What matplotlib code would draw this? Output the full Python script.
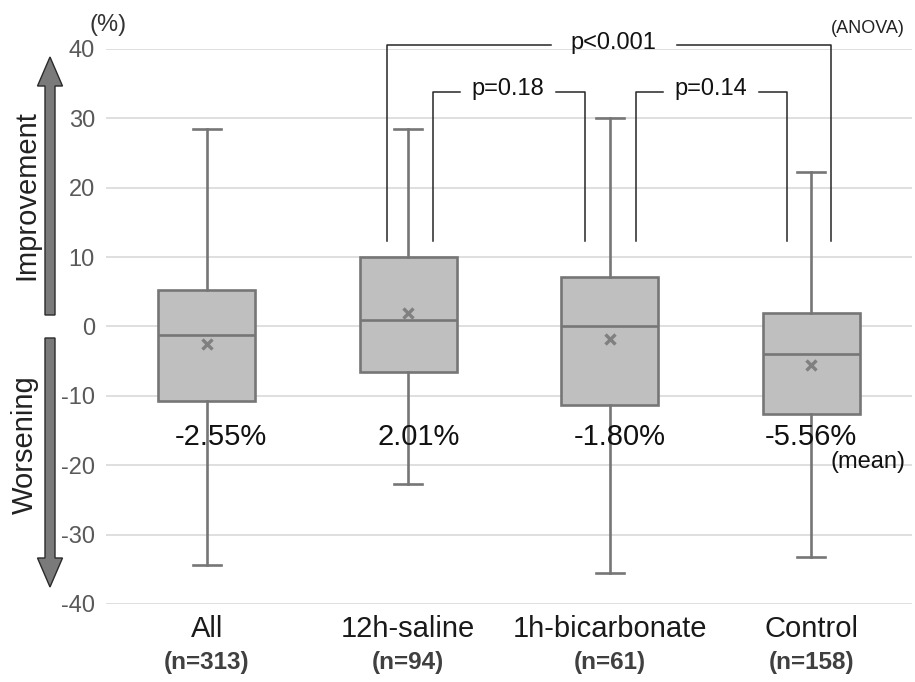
import matplotlib
matplotlib.use("Agg")
import matplotlib.pyplot as plt
from matplotlib.patches import FancyArrow
from matplotlib.transforms import blended_transform_factory

plt.rcParams["font.family"] = ["Liberation Sans", "DejaVu Sans"]
plt.rcParams["axes.unicode_minus"] = False

# data
groups = ["All", "12h-saline", "1h-bicarbonate", "Control"]
n_labels = ["(n=313)", "(n=94)", "(n=61)", "(n=158)"]
whis_hi = [28.5, 28.5, 30.0, 22.3]
q3 = [5.2, 10.0, 7.2, 1.9]
median = [-1.3, 1.0, 0.0, -3.9]
q1 = [-10.8, -6.6, -11.3, -12.6]
whis_lo = [-34.4, -22.7, -35.5, -33.3]
means = [-2.55, 2.01, -1.80, -5.56]

BOX = "#bfbfbf"
EDGE = "#767676"
GRID = "#d9d9d9"
TICK = "#595959"

stats = []
for i in range(len(groups)):
    stats.append(dict(med=median[i], q1=q1[i], q3=q3[i], whislo=whis_lo[i],
                      whishi=whis_hi[i], mean=means[i], fliers=[], label=groups[i]))

fig = plt.figure(figsize=(9.15, 6.82), dpi=100)
ax = fig.add_axes([0.1158, 0.1144, 0.881, 0.8138])

line = dict(color=EDGE, linewidth=1.9)
ax.bxp(stats, positions=range(len(groups)), widths=0.48, capwidths=0.14,
       patch_artist=True, showmeans=True, showfliers=False,
       boxprops=dict(facecolor=BOX, edgecolor=EDGE, linewidth=1.9),
       medianprops=line, whiskerprops=line, capprops=line,
       meanprops=dict(marker="x", markeredgecolor="#808080", markersize=7,
                      markeredgewidth=2.4))

ax.set_xlim(-0.5, 3.5)
ax.set_ylim(-40, 40)
ax.set_yticks(range(-40, 41, 10))
ax.tick_params(axis="y", length=0, labelsize=17, labelcolor=TICK, pad=8)
ax.tick_params(axis="x", length=0, labelbottom=False)
ax.grid(axis="y", color=GRID, linewidth=1.2)
ax.set_axisbelow(True)
for s in ax.spines.values():
    s.set_visible(False)

# category labels below the axis
tr = blended_transform_factory(ax.transData, ax.transAxes)
for i, (g, n) in enumerate(zip(groups, n_labels)):
    ax.text(i, -0.045, g, transform=tr, ha="center", va="center",
            fontsize=21, color="#1a1a1a")
    ax.text(i, -0.106, n, transform=tr, ha="center", va="center",
            fontsize=17.5, fontweight="bold", color="#404040")

# mean labels
offs = [0.07, 0.05, 0.05, 0.0]
for i, m in enumerate(means):
    ax.text(i + offs[i], -15.9, f"{m:.2f}%", ha="center", va="center",
            fontsize=21, color="#111111")
ax.text(3.28, -19.5, "(mean)", ha="center", va="center", fontsize=17,
        color="#111111", clip_on=False)

# significance brackets
bk = dict(color="#262626", linewidth=1.1, clip_on=False)
ax.plot([0.893, 0.893, 1.707], [12.3, 40.6, 40.6], **bk)
ax.plot([2.333, 3.10, 3.10], [40.6, 40.6, 12.3], **bk)
ax.text(2.02, 40.8, "p<0.001", ha="center", va="center", fontsize=17, color="#111111")
ax.plot([1.122, 1.122, 1.256], [12.3, 33.8, 33.8], **bk)
ax.plot([1.732, 1.876, 1.876], [33.8, 33.8, 12.3], **bk)
ax.text(1.494, 34.2, "p=0.18", ha="center", va="center", fontsize=17, color="#111111")
ax.plot([2.129, 2.129, 2.263], [12.3, 33.8, 33.8], **bk)
ax.plot([2.739, 2.878, 2.878], [33.8, 33.8, 12.3], **bk)
ax.text(2.501, 34.2, "p=0.14", ha="center", va="center", fontsize=17, color="#111111")
ax.text(3.28, 42.9, "(ANOVA)", ha="center", va="center", fontsize=13,
        color="#222222", clip_on=False)

# unit label
fig.text(108 / 915, 1 - 25 / 682, "(%)", ha="center", va="center",
         fontsize=17, color="#333333")

# improvement / worsening arrows
akw = dict(width=0.10, head_width=0.25, head_length=0.29,
           length_includes_head=True, facecolor="#7a7a7a", edgecolor="#2a2a2a",
           linewidth=1.0, transform=fig.dpi_scale_trans)
fig.add_artist(FancyArrow(0.50, 3.67, 0, 2.58, **akw))
fig.add_artist(FancyArrow(0.50, 3.44, 0, -2.49, **akw))
fig.text(26 / 915, 1 - 195 / 682, "Improvement", rotation=90, ha="center",
         va="center", fontsize=21, color="#222222")
fig.text(25 / 915, 1 - 445 / 682, "Worsening", rotation=90, ha="center",
         va="center", fontsize=21, color="#222222")

fig.savefig("out.png", dpi=100)
